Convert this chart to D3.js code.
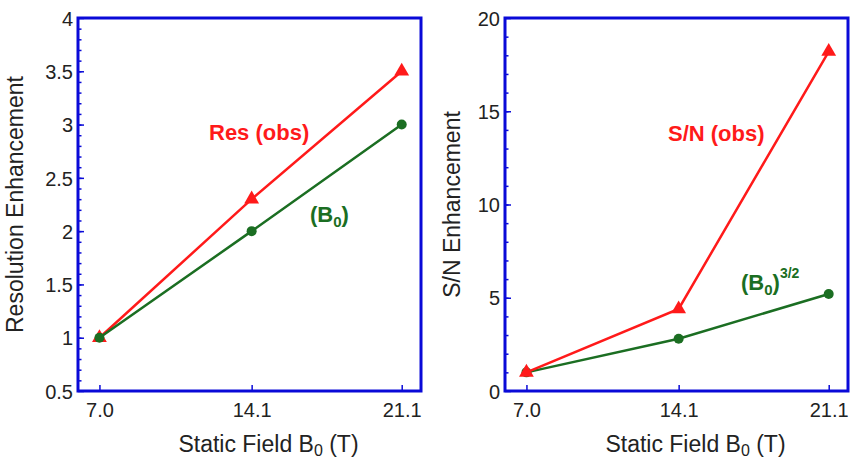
<!DOCTYPE html>
<html lang="en">
<head>
<meta charset="UTF-8">
<title>Enhancement vs static field</title>
<script src="https://cdn.jsdelivr.net/npm/d3@7"></script>
<style>
  body { margin: 0; background: #fff; }
  text { font-family: "Liberation Sans", Arial, sans-serif; }
</style>
</head>
<body>
<svg width="850" height="458"></svg>
<script>
// data
var fields = [7.0, 14.1, 21.1];
var fieldLabels = ["7.0", "14.1", "21.1"];
var resObs = [1.0, 2.3, 3.5];
var resB0 = [1.0, 2.0, 3.0];
var snObs = [1.0, 4.4, 18.2];
var snB0 = [1.0, 2.8, 5.2];
var resTicks = [0.5, 1, 1.5, 2, 2.5, 3, 3.5, 4];
var resTickLabels = ["0.5", "1", "1.5", "2", "2.5", "3", "3.5", "4"];
var snTicks = [0, 5, 10, 15, 20];

var red = "#ff1a1a", green = "#1b6e22", blue = "#0a0ad8";
var svg = d3.select("svg");

function panel(opt) {
  var g = svg.append("g").attr("transform", "translate(" + opt.left + ",18)");
  var w = 343, h = 373;
  var x = d3.scaleLinear().domain([6, 22]).range([0, w]);
  var y = d3.scaleLinear().domain(opt.yDomain).range([h, 0]);

  // minor ticks on the left edge
  g.append("g").call(d3.axisLeft(y).tickValues(opt.minor).tickFormat("").tickSizeInner(-3.5).tickSizeOuter(0))
    .call(a => a.select(".domain").remove())
    .selectAll("line").attr("stroke", blue).attr("stroke-width", 1.5);

  // major y ticks + labels
  var ya = g.append("g").call(d3.axisLeft(y).tickValues(opt.ticks)
      .tickFormat((d, i) => opt.tickLabels[i]).tickSizeInner(-6).tickSizeOuter(0).tickPadding(5))
  ya.select(".domain").remove();
  ya.selectAll("line").attr("stroke", blue).attr("stroke-width", 1.5);
  ya.selectAll("text").attr("font-size", 20).attr("fill", "#222").attr("dy", "0.36em");

  // x ticks + labels
  var xa = g.append("g").attr("transform", "translate(0," + h + ")")
    .call(d3.axisBottom(x).tickValues(fields).tickFormat((d, i) => fieldLabels[i])
      .tickSizeInner(-6).tickSizeOuter(0).tickPadding(12));
  xa.select(".domain").remove();
  xa.selectAll("line").attr("stroke", blue).attr("stroke-width", 1.5);
  xa.selectAll("text").attr("font-size", 20).attr("fill", "#222");

  // frame
  g.append("rect").attr("width", w).attr("height", h)
    .attr("fill", "none").attr("stroke", blue).attr("stroke-width", 3);

  var line = d3.line().x((d, i) => x(fields[i])).y(d => y(d));

  function drawObs() {
    g.append("path").datum(opt.obs).attr("d", line)
      .attr("fill", "none").attr("stroke", red).attr("stroke-width", 2.5);
    g.selectAll(".tri" + opt.left).data(opt.obs).enter().append("path")
      .attr("d", d3.symbol(d3.symbolTriangle, 95))
      .attr("transform", (d, i) => "translate(" + x(fields[i]) + "," + y(d) + ")")
      .attr("fill", red);
  }
  function drawCalc() {
    g.append("path").datum(opt.calc).attr("d", line)
      .attr("fill", "none").attr("stroke", green).attr("stroke-width", 2.5);
    g.selectAll(".dot" + opt.left).data(opt.calc).enter().append("circle")
      .attr("cx", (d, i) => x(fields[i])).attr("cy", d => y(d)).attr("r", 5)
      .attr("fill", green);
  }
  if (opt.obsFirst) { drawObs(); drawCalc(); } else { drawCalc(); drawObs(); }

  // y axis title
  g.append("text").attr("transform", "translate(" + opt.yTitleX + "," + (h / 2) + ") rotate(-90)")
    .attr("text-anchor", "middle").attr("font-size", 23).attr("fill", "#222").text(opt.yTitle);

  // x axis title
  var xt = g.append("text").attr("x", w / 2 + 19).attr("y", h + 61)
    .attr("text-anchor", "middle").attr("font-size", 23).attr("fill", "#222");
  xt.append("tspan").text("Static Field B");
  xt.append("tspan").attr("font-size", 16).attr("dy", 4).text("0");
  xt.append("tspan").attr("dy", -4).text(" (T)");

  return {g: g, x: x, y: y};
}

var p1 = panel({left: 78, yDomain: [0.5, 4], ticks: resTicks, tickLabels: resTickLabels,
  minor: d3.range(0.6, 4, 0.1), obs: resObs, calc: resB0, obsFirst: true,
  yTitle: "Resolution Enhancement", yTitleX: -55});
var p2 = panel({left: 505, yDomain: [0, 20], ticks: snTicks, tickLabels: snTicks.map(String),
  minor: d3.range(1, 20, 1), obs: snObs, calc: snB0, obsFirst: false,
  yTitle: "S/N Enhancement", yTitleX: -45});

// series labels
p1.g.append("text").attr("x", 131).attr("y", 122).attr("font-size", 22).attr("font-weight", "bold")
  .attr("fill", red).text("Res (obs)");
var b1 = p1.g.append("text").attr("x", 232).attr("y", 204).attr("font-size", 22).attr("font-weight", "bold")
  .attr("fill", green);
b1.append("tspan").text("(B");
b1.append("tspan").attr("font-size", 15).attr("dy", 5).text("0");
b1.append("tspan").attr("dy", -5).text(")");

p2.g.append("text").attr("x", 163).attr("y", 123).attr("font-size", 22).attr("font-weight", "bold")
  .attr("fill", red).text("S/N (obs)");
var b2 = p2.g.append("text").attr("x", 236).attr("y", 272).attr("font-size", 22).attr("font-weight", "bold")
  .attr("fill", green);
b2.append("tspan").text("(B");
b2.append("tspan").attr("font-size", 15).attr("dy", 5).text("0");
b2.append("tspan").attr("dy", -5).text(")");
b2.append("tspan").attr("font-size", 14).attr("dy", -12).text("3/2");
</script>
</body>
</html>
